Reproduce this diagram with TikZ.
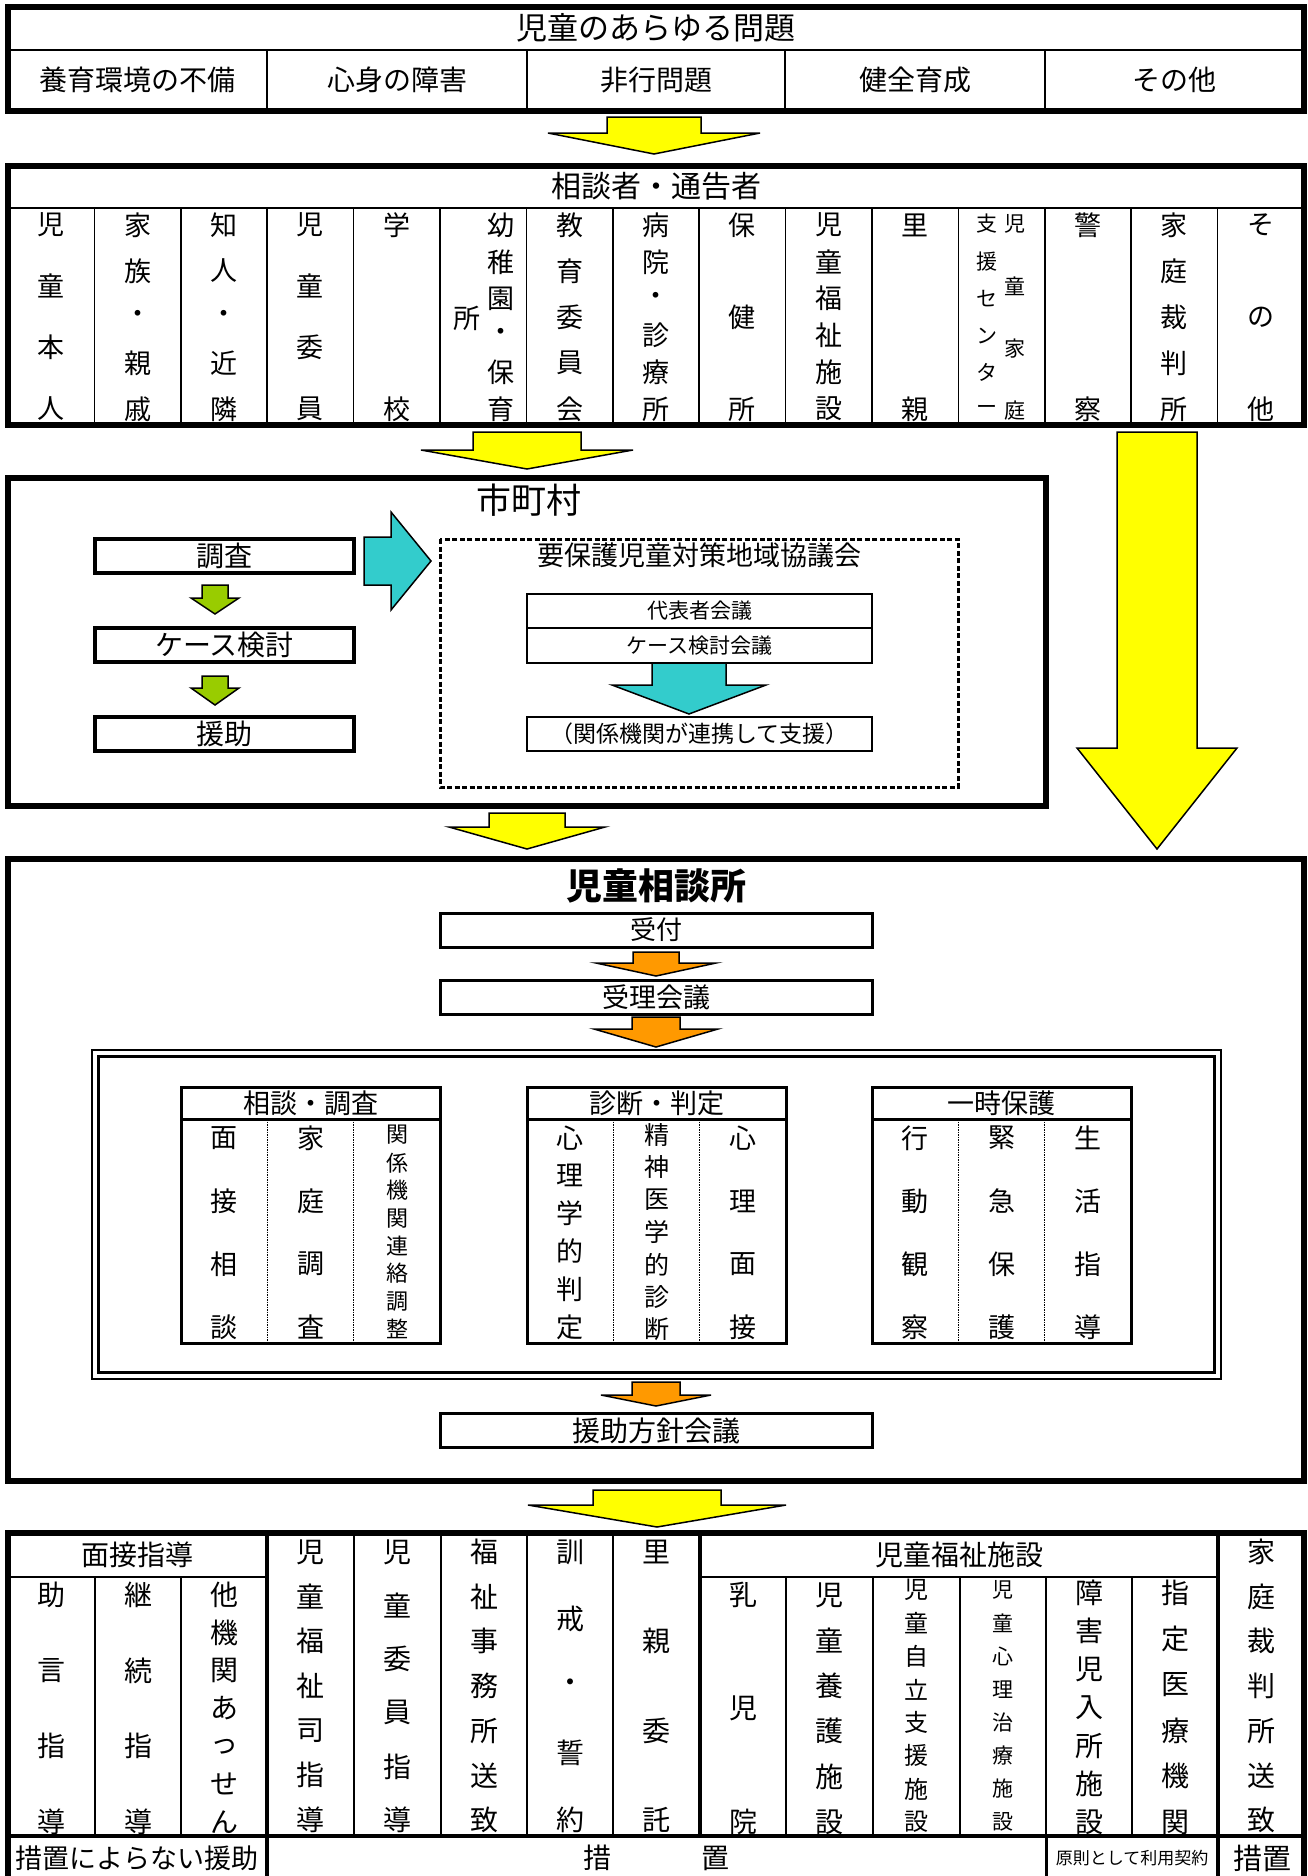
\documentclass[tikz,border=0pt]{standalone}
\usepackage{fontspec}
\setmainfont{Noto Sans CJK JP}
\usepackage{xcolor}
\usetikzlibrary{calc}

\definecolor{yellowarrow}{RGB}{255,255,0}
\definecolor{orangearrow}{RGB}{255,153,0}
\definecolor{greenarrow}{RGB}{153,204,0}
\definecolor{cyanarrow}{RGB}{51,204,204}

\newcommand\fs[1]{\fontsize{#1}{#1}\selectfont}
% block arrow pointing down: colour, centre x, top, shoulder, tip, half shaft, half head
\newcommand\downblock[7]{%
  \filldraw[fill=#1,draw=black,line width=1.5pt]
    (#2-#6,#3) -- (#2+#6,#3) -- (#2+#6,#4) -- (#2+#7,#4) -- (#2,#5)
    -- (#2-#7,#4) -- (#2-#6,#4) -- cycle;}
% vertical text: name, x, first y, last y, count, size, characters
\newcommand\vchars[7]{%
  \foreach \cjkchar [count=\i from 0] in {#7}
    \node[font=\fs{#6},inner sep=0pt] (#1-\i) at (#2,{#3+\i*(#4-#3)/(#5-1)}) {\cjkchar};}

\begin{document}
\begin{tikzpicture}[x=1pt,y=-1pt,
  bigframe/.style={line width=6pt},
  rule/.style={line width=1.5pt},
  heavyrule/.style={line width=4pt},
  flowbox/.style={draw,line width=3.5pt,minimum width=259pt,minimum height=34pt,inner sep=0pt,font=\fs{28}},
  stepbox/.style={draw,line width=3pt,minimum width=432pt,minimum height=34pt,inner sep=0pt},
  meetbox/.style={draw,line width=1.8pt,minimum width=345pt,minimum height=34.5pt,inner sep=0pt,font=\fs{21}},
  tabbox/.style={line width=3pt},
  dotrule/.style={line width=1.5pt,densely dotted}]
\useasboundingbox (0,0) rectangle (1308,1876);

% problems
\draw[bigframe] (8,7) rectangle (1304,111);
\draw[rule] (8,50) -- (1304,50);
\foreach \x in {267,527,785,1045} \draw[rule] (\x,50) -- (\x,111);
\node[font=\fs{31}] (problems) at (656,28) {児童のあらゆる問題};
\node[font=\fs{28}] (p1) at (137.5,80) {養育環境の不備};
\node[font=\fs{28}] (p2) at (397,80) {心身の障害};
\node[font=\fs{28}] (p3) at (656,80) {非行問題};
\node[font=\fs{28}] (p4) at (915,80) {健全育成};
\node[font=\fs{28}] (p5) at (1174.5,80) {その他};

\downblock{yellowarrow}{654}{117}{133}{154}{47}{106}

% reporters
\draw[bigframe] (8,166) rectangle (1304,425);
\draw[rule] (8,208) -- (1304,208);
\foreach \k in {1,...,14} \draw[rule] ({8+86.4*\k},208) -- ({8+86.4*\k},425);
\node[font=\fs{30}] (reporters) at (656,186) {相談者・通告者};
\vchars{r1}{51.2}{225}{409}{4}{27}{児,童,本,人}
\vchars{r2}{137.6}{225}{409}{5}{27}{家,族,・,親,戚}
\vchars{r3}{224}{225}{409}{5}{27}{知,人,・,近,隣}
\vchars{r4}{310.4}{225}{409}{4}{27}{児,童,委,員}
\vchars{r5}{396.8}{225}{409}{2}{27}{学,校}
\vchars{r6}{501}{225}{409}{6}{27}{幼,稚,園,・,保,育}
\node[font=\fs{27},inner sep=0pt] (r6-extra) at (467,318) {所};
\vchars{r7}{569.6}{225}{409}{5}{27}{教,育,委,員,会}
\vchars{r8}{656}{225}{409}{6}{27}{病,院,・,診,療,所}
\vchars{r9}{742.4}{225}{409}{3}{27}{保,健,所}
\vchars{r10}{828.8}{225}{409}{6}{27}{児,童,福,祉,施,設}
\vchars{r11}{915.2}{225}{409}{2}{27}{里,親}
\vchars{r12}{1015}{224}{411}{4}{21}{児,童,家,庭}
\vchars{r12b}{987}{224}{410}{6}{21}{支,援,セ,ン,タ,ー}
\vchars{r13}{1088}{225}{409}{2}{27}{警,察}
\vchars{r14}{1174.4}{225}{409}{5}{27}{家,庭,裁,判,所}
\vchars{r15}{1260.8}{225}{409}{3}{27}{そ,の,他}

\downblock{yellowarrow}{527}{432}{450}{469}{54}{106}
\downblock{yellowarrow}{1157}{432}{748}{849}{40}{80}

% municipality
\draw[bigframe] (8,478) rectangle (1046,806);
\node[font=\fs{35}] (city) at (529,500) {市町村};
\node[flowbox] (survey) at (224.5,556) {調査};
\node[flowbox] (casecheck) at (224.5,645) {ケース検討};
\node[flowbox] (support) at (224.5,734) {援助};
\downblock{greenarrow}{215}{585}{598}{614}{13}{24}
\downblock{greenarrow}{215}{676}{688}{705}{13}{24}
\filldraw[fill=cyanarrow,draw=black,line width=1.5pt]
  (364,537) -- (391,537) -- (391,512) -- (431,561) -- (391,610) -- (391,585) -- (364,585) -- cycle;
\draw[line width=3pt,dash pattern=on 5pt off 2.5pt] (440,539) rectangle (958,787);
\node[font=\fs{27}] (council) at (699,555) {要保護児童対策地域協議会};
\node[meetbox] (delegates) at (699.5,611) {代表者会議};
\node[meetbox] (casemeeting) at (699.5,645.5) {ケース検討会議};
\downblock{cyanarrow}{689}{663}{685}{714}{37}{77}
\node[meetbox,font=\fs{23}] (cooperation) at (699.5,734) {（関係機関が連携して支援）};

\downblock{yellowarrow}{527}{813}{827}{849}{38}{78}

% guidance centre
\draw[bigframe] (8,859) rectangle (1304,1481);
\node[font=\fs{36}\bfseries] (centre) at (656,886) {児童相談所};
\node[stepbox,font=\fs{26}] (reception) at (656,930) {受付};
\downblock{orangearrow}{656}{952}{963}{976}{23}{60}
\node[stepbox,font=\fs{27}] (intake) at (656,997.5) {受理会議};
\downblock{orangearrow}{656}{1017}{1029}{1047}{24}{62}
\draw[line width=2pt] (92,1050) rectangle (1221,1379);
\draw[line width=3pt] (98.5,1056.5) rectangle (1214.5,1372.5);
\foreach \t in {181,527,872} {
  \draw[tabbox] (\t,1087) rectangle (\t+259,1343);
  \draw[tabbox] (\t,1119) -- (\t+259,1119);
  \draw[dotrule] (\t+86.3,1119) -- (\t+86.3,1343);
  \draw[dotrule] (\t+172.6,1119) -- (\t+172.6,1343);
}
\node[font=\fs{27}] (interview) at (310.5,1103) {相談・調査};
\node[font=\fs{27}] (diagnosis) at (656.5,1103) {診断・判定};
\node[font=\fs{27}] (shelter) at (1001.5,1103) {一時保護};
\vchars{t1a}{224}{1138}{1327}{4}{27}{面,接,相,談}
\vchars{t1b}{310.5}{1138}{1327}{4}{27}{家,庭,調,査}
\vchars{t1c}{397}{1135}{1329}{8}{22}{関,係,機,関,連,絡,調,整}
\vchars{t2a}{570}{1138}{1327}{6}{27}{心,理,学,的,判,定}
\vchars{t2b}{656.5}{1135}{1329}{7}{25}{精,神,医,学,的,診,断}
\vchars{t2c}{743}{1138}{1327}{4}{27}{心,理,面,接}
\vchars{t3a}{915}{1138}{1327}{4}{27}{行,動,観,察}
\vchars{t3b}{1001.5}{1138}{1327}{4}{27}{緊,急,保,護}
\vchars{t3c}{1088}{1138}{1327}{4}{27}{生,活,指,導}
\downblock{orangearrow}{656}{1382}{1395}{1406}{24}{55}
\node[stepbox,font=\fs{28}] (policy) at (656,1430.5) {援助方針会議};

\downblock{yellowarrow}{657}{1490}{1505}{1527}{64}{129}

% measures
\node[font=\fs{28}] (faceguide) at (137.5,1555) {面接指導};
\node[font=\fs{28}] (facilities) at (959,1555) {児童福祉施設};
\vchars{m1}{51.5}{1595}{1822}{4}{28}{助,言,指,導}
\vchars{m2}{138}{1595}{1822}{4}{28}{継,続,指,導}
\vchars{m3}{224}{1595}{1822}{7}{28}{他,機,関,あ,っ,せ,ん}
\vchars{m4}{310.5}{1552}{1820}{7}{28}{児,童,福,祉,司,指,導}
\vchars{m5}{397.5}{1552}{1820}{6}{28}{児,童,委,員,指,導}
\vchars{m6}{484}{1552}{1820}{7}{28}{福,祉,事,務,所,送,致}
\vchars{m7}{570}{1552}{1820}{5}{28}{訓,戒,・,誓,約}
\vchars{m8}{656.5}{1552}{1820}{4}{28}{里,親,委,託}
\vchars{m9}{743}{1595}{1822}{3}{28}{乳,児,院}
\vchars{m10}{829.5}{1595}{1822}{6}{28}{児,童,養,護,施,設}
\vchars{m11}{916.5}{1590}{1822}{8}{24}{児,童,自,立,支,援,施,設}
\vchars{m12}{1003}{1590}{1822}{8}{21}{児,童,心,理,治,療,施,設}
\vchars{m13}{1089}{1593}{1822}{7}{28}{障,害,児,入,所,施,設}
\vchars{m14}{1175}{1593}{1822}{6}{28}{指,定,医,療,機,関}
\vchars{m15}{1261}{1552}{1820}{7}{28}{家,庭,裁,判,所,送,致}
\node[font=\fs{27}] (nomeasure) at (137.5,1858) {措置によらない援助};
\node[font=\fs{28}] (measure) at (656.5,1858) {措\hspace{90pt}置};
\node[font=\fs{17}] (contract) at (1132,1858) {原則として利用契約};
\node[font=\fs{29}] (measure2) at (1262,1858) {措置};
\draw[bigframe] (8,1880) -- (8,1533) -- (1304,1533) -- (1304,1880);
\draw[heavyrule] (8,1836) -- (1304,1836);
\draw[heavyrule] (267,1533) -- (267,1880);
\draw[heavyrule] (700,1533) -- (700,1836);
\draw[heavyrule] (1218,1533) -- (1218,1880);
\draw[line width=3pt] (1046,1836) -- (1046,1880);
\draw[rule] (8,1577) -- (267,1577);
\draw[rule] (700,1577) -- (1218,1577);
\foreach \x in {95,181} \draw[rule] (\x,1577) -- (\x,1836);
\foreach \x in {354,441,527,613} \draw[rule] (\x,1533) -- (\x,1836);
\foreach \x in {786,873,960,1046,1132} \draw[rule] (\x,1577) -- (\x,1836);
\end{tikzpicture}
\end{document}
